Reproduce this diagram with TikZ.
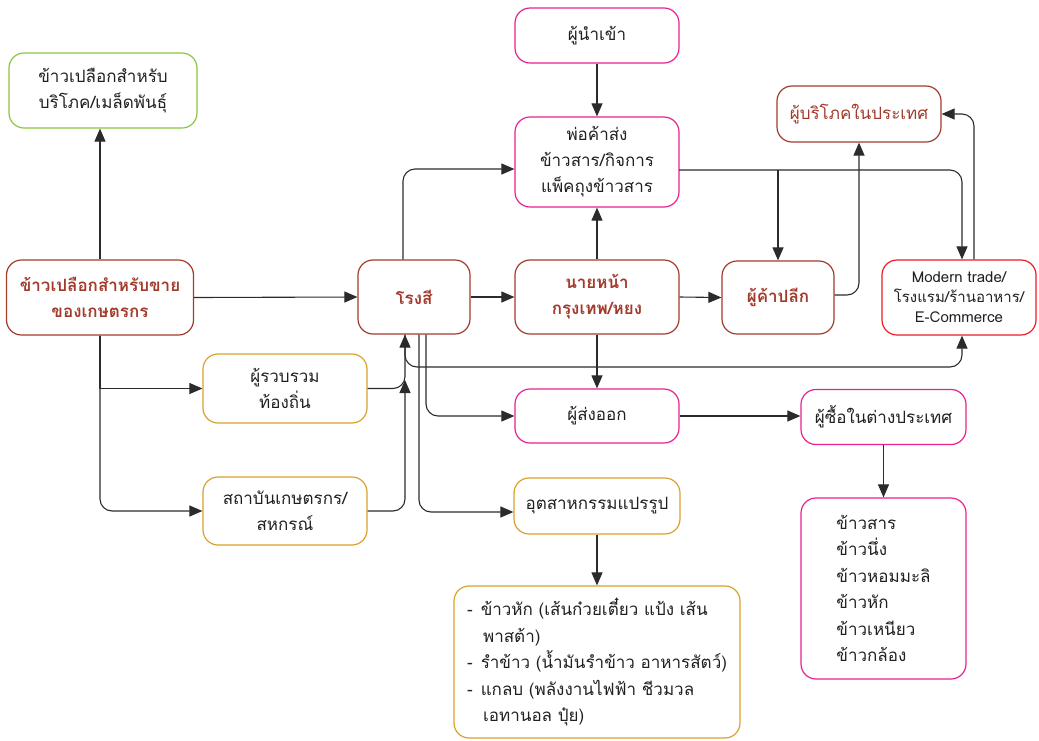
\documentclass[tikz,border=0pt]{standalone}
\usepackage{fontspec}
\newfontfamily\thai[Script=Thai]{Loma}
\usetikzlibrary{arrows.meta}
\definecolor{ink}{HTML}{231F20}
\definecolor{brick}{HTML}{A33B2C}
\definecolor{pinkm}{HTML}{E8218F}
\definecolor{gold}{HTML}{D9A12E}
\definecolor{leaf}{HTML}{8CC63F}
\definecolor{redm}{HTML}{EC1C24}
\definecolor{wire}{HTML}{2B2B2B}
\tikzset{
  box/.style={draw, line width=1.2pt, rounded corners=15pt, fill=white, align=center,
    inner sep=0pt, text=ink, font=\thai\fontsize{17}{26}\selectfont},
  brickbox/.style={box, draw=brick, text=brick, font=\thai\bfseries\fontsize{17}{26}\selectfont},
  brickthin/.style={box, draw=brick, text=brick},
  pinkbox/.style={box, draw=pinkm},
  goldbox/.style={box, draw=gold},
  leafbox/.style={box, draw=leaf},
  redbox/.style={box, draw=redm},
  link/.style={draw=wire, line width=1.1pt, -{Triangle[length=13pt,width=11pt]}},
  elbow/.style={link, rounded corners=12pt},
}
\begin{document}
\begin{tikzpicture}[x=1pt, y=-1pt]
\useasboundingbox (0,0) rectangle (1039,740);

% nodes
\node[leafbox, minimum width=188pt, minimum height=75pt] (green) at (103,90.5) {ข้าวเปลือกสำหรับ\\บริโภค/เมล็ดพันธุ์};
\node[brickbox, minimum width=187pt, minimum height=75pt] (farm) at (100,297.5) {ข้าวเปลือกสำหรับขาย\\ของเกษตรกร};
\node[pinkbox, minimum width=164pt, minimum height=55pt] (importer) at (597,35.5) {ผู้นำเข้า};
\node[pinkbox, minimum width=164pt, minimum height=90pt] (wholesale) at (597,162) {พ่อค้าส่ง\\ข้าวสาร/กิจการ\\แพ็คถุงข้าวสาร};
\node[brickthin, minimum width=164pt, minimum height=56pt] (consumer) at (859,114) {ผู้บริโภคในประเทศ};
\node[brickbox, minimum width=112pt, minimum height=73pt] (retail) at (778,297.5) {ผู้ค้าปลีก};
\node[redbox, minimum width=154pt, minimum height=75pt, font=\thai\fontsize{15}{20}\selectfont] (modern) at (959,297.5) {Modern trade/\\โรงแรม/ร้านอาหาร/\\E-Commerce};
\node[brickbox, minimum width=112pt, minimum height=74pt] (mill) at (414,297) {โรงสี};
\node[brickbox, minimum width=164pt, minimum height=74pt] (broker) at (597,297) {นายหน้า\\กรุงเทพ/หยง};
\node[pinkbox, minimum width=164pt, minimum height=54pt] (exporter) at (597,416) {ผู้ส่งออก};
\node[goldbox, minimum width=164pt, minimum height=69pt] (collector) at (285,388.5) {ผู้รวบรวม\\ท้องถิ่น};
\node[goldbox, minimum width=164pt, minimum height=68pt] (coop) at (285,511) {สถาบันเกษตรกร/\\สหกรณ์};
\node[goldbox, minimum width=166pt, minimum height=56pt] (industry) at (597,506) {อุตสาหกรรมแปรรูป};
\node[pinkbox, minimum width=165pt, minimum height=55pt] (buyer) at (883.5,417) {ผู้ซื้อในต่างประเทศ};
\node[pinkbox, minimum width=165pt, minimum height=181pt, align=left, font=\thai\fontsize{17}{26.5}\selectfont] (grades) at (883.5,588.5) {ข้าวสาร\\ข้าวนึ่ง\\ข้าวหอมมะลิ\\ข้าวหัก\\ข้าวเหนียว\\ข้าวกล้อง};
\node[goldbox, minimum width=286pt, minimum height=152pt, align=left, font=\thai\fontsize{17}{26.5}\selectfont] (products) at (597,662)
  {-\hspace{8pt}ข้าวหัก (เส้นก๋วยเตี๋ยว แป้ง เส้น\\
   \hspace*{16pt}พาสต้า)\\
   -\hspace{8pt}รำข้าว (น้ำมันรำข้าว อาหารสัตว์)\\
   -\hspace{8pt}แกลบ (พลังงานไฟฟ้า ชีวมวล\\
   \hspace*{16pt}เอทานอล ปุ๋ย)};

% junctions on the mill's feeder line
\coordinate (merge) at (405,380);
\coordinate (turn) at (405,367);
\coordinate (wline) at (679,170);

% connectors
\draw[link] (farm.north) -- (farm.north |- green.south);
\draw[link] (farm.east) -- (mill.west);
\draw[link] (farm.south) |- (collector.west);
\draw[elbow] (farm.south) |- (coop.west);
\draw[elbow] (collector.east) -| ([xshift=-9pt]mill.south);
\draw[elbow] (coop.east) -| (merge);
\draw[elbow] ([xshift=-9pt]mill.south) -- (turn) -| ([xshift=3pt]modern.south);
\draw[elbow] ([xshift=12pt]mill.south) |- (exporter.west);
\draw[elbow] ([xshift=5pt]mill.south) |- ([yshift=-6pt]industry.west);
\draw[elbow] ([xshift=-11pt]mill.north) |- ([yshift=-7pt]wholesale.west);
\draw[link] (mill.east) -- (broker.west);
\draw[link] (broker.north) -- (wholesale.south);
\draw[link] (importer.south) -- (importer.south |- wholesale.north);
\draw[link] (broker.east) -- (retail.west);
\draw[link] (broker.south) -- (exporter.north);
\draw[elbow] (wline) -| ([xshift=3pt]modern.north);
\draw[link] (wline -| retail.north) -- (retail.north);
\draw[elbow] ([xshift=15pt]modern.north) |- (consumer.east);
\draw[elbow] ([yshift=2.5pt]retail.east) -| (consumer.south);
\draw[link] (exporter.east) -- (exporter.east -| buyer.west);
\draw[link] (buyer.south) -- (buyer.south |- grades.north);
\draw[link] (industry.south) -- (products.north);
\end{tikzpicture}
\end{document}
